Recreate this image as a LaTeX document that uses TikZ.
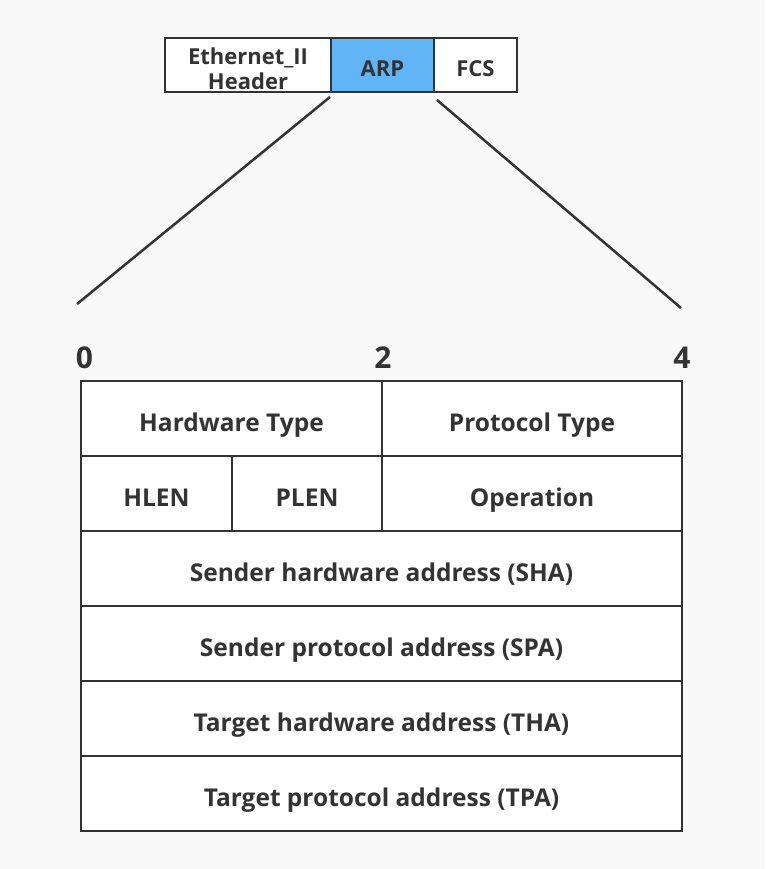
\documentclass[tikz,border=0pt]{standalone}
\usepackage{fontspec}
\setmainfont{Open Sans}
\usetikzlibrary{positioning,calc}
\definecolor{bgcol}{HTML}{F9F9F9}
\definecolor{linecol}{HTML}{333333}
\definecolor{arpblue}{HTML}{61B4F6}

\begin{document}
\begin{tikzpicture}[x=1pt,y=-1pt,
  cell/.style={draw=linecol, line width=2.5pt, fill=white, inner sep=0pt,
    outer sep=0pt, anchor=north west, text=linecol, align=center},
  field/.style={cell, minimum height=75pt, text height=29pt, text depth=3pt,
    font=\bfseries\fontsize{24.5}{26}\selectfont},
  hdr/.style={cell, minimum height=54pt, text height=26.4pt, text depth=3pt,
    font=\bfseries\fontsize{22}{25}\selectfont},
  num/.style={text=linecol, inner sep=0pt, font=\bfseries\fontsize{30}{30}\selectfont},
  zoomline/.style={draw=linecol, line width=2.5pt}]
\useasboundingbox[fill=bgcol] (0,0) rectangle (765,869);

% frame on top
\node[hdr, minimum width=166pt, text height=52pt, text depth=2pt] (eth) at (165,38) {Ethernet\_II\\Header};
\node[hdr, minimum width=103pt, fill=arpblue] (arp) at (331,38) {ARP};
\node[hdr, minimum width=83pt] (fcs) at (434,38) {FCS};

% byte offsets
\node[num] (b0) at (84.5,357.5) {0};
\node[num] (b2) at (383,357.5) {2};
\node[num] (b4) at (682,357.5) {4};

% zoom lines
\coordinate (zl1) at (330,97);
\coordinate (zl2) at (77,304);
\coordinate (zr1) at (437,100);
\coordinate (zr2) at (681,308);
\draw[zoomline] (zl1) -- (zl2);
\draw[zoomline] (zr1) -- (zr2);

% ARP packet
\node[field, minimum width=301pt] (hwtype) at (81,381) {Hardware Type};
\node[field, minimum width=300pt] (prtype) at (382,381) {Protocol Type};
\node[field, minimum width=151pt] (hlen) at (81,456) {HLEN};
\node[field, minimum width=150pt] (plen) at (232,456) {PLEN};
\node[field, minimum width=300pt] (oper) at (382,456) {Operation};
\node[field, minimum width=601pt] (sha) at (81,531) {Sender hardware address (SHA)};
\node[field, minimum width=601pt] (spa) at (81,606) {Sender protocol address (SPA)};
\node[field, minimum width=601pt] (tha) at (81,681) {Target hardware address (THA)};
\node[field, minimum width=601pt] (tpa) at (81,756) {Target protocol address (TPA)};
\end{tikzpicture}
\end{document}
